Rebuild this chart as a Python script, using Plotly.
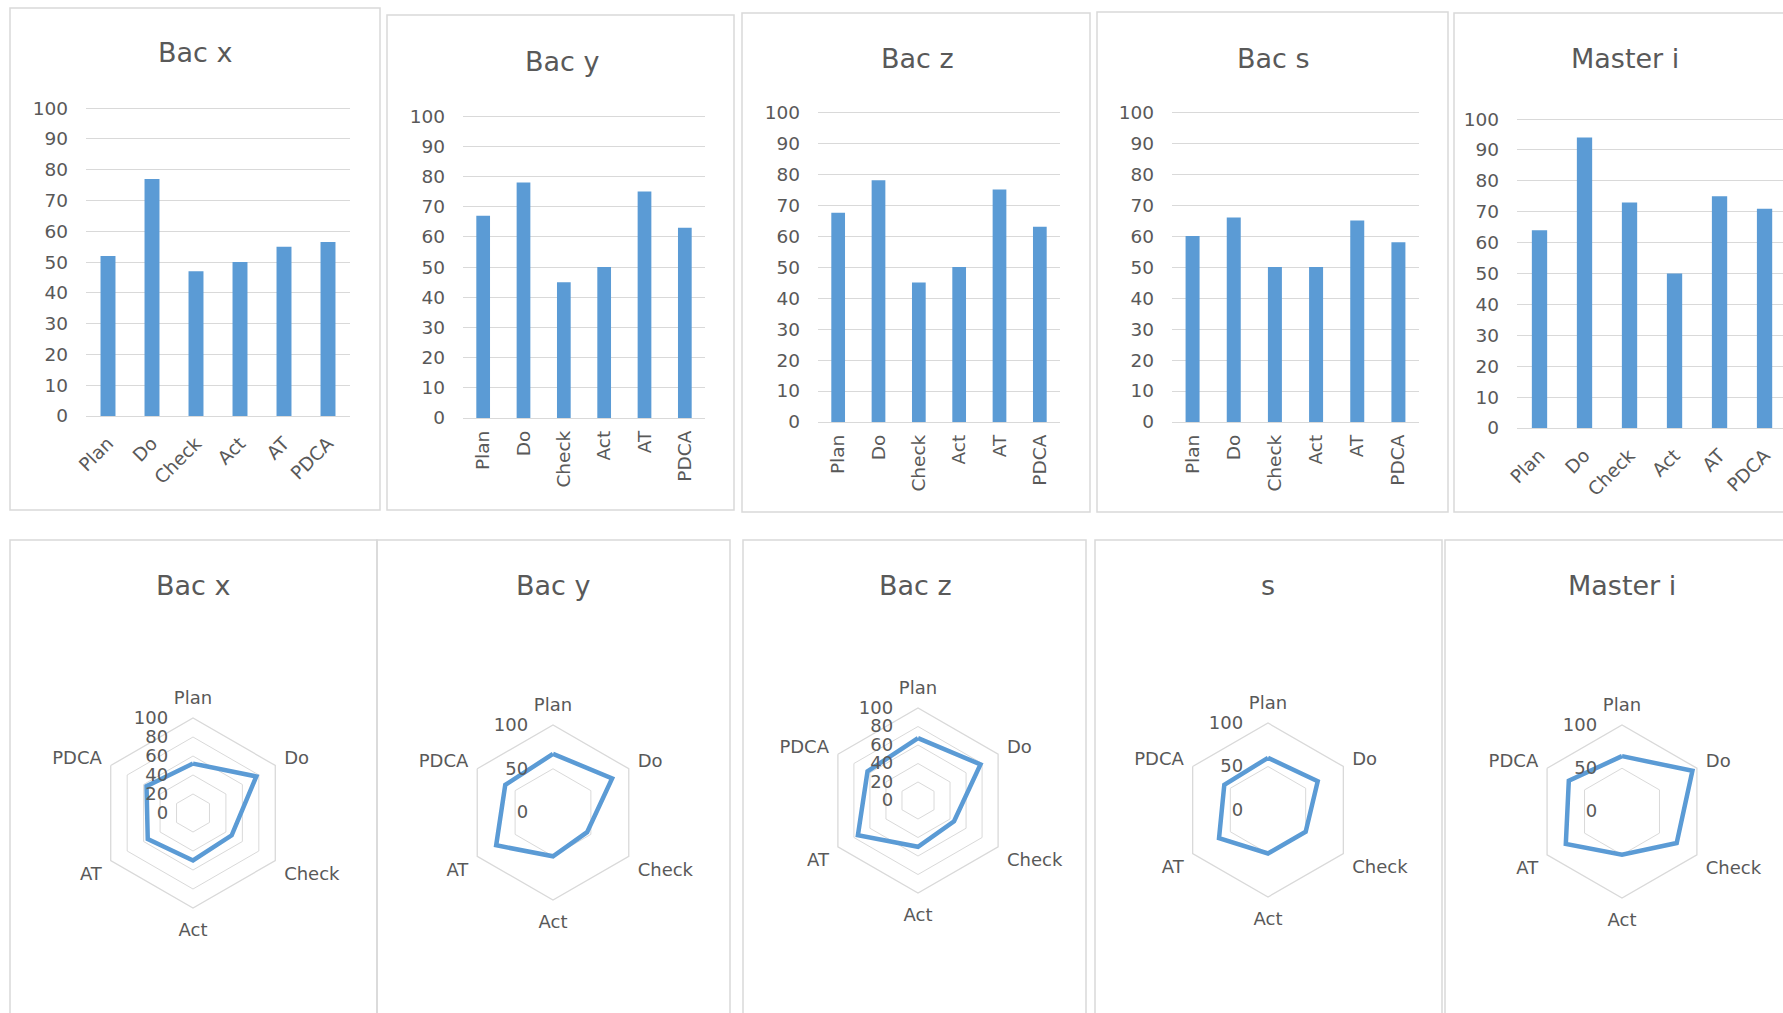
import plotly.graph_objects as go

# PDCA dimension scores per programme
categories = ["Plan", "Do", "Check", "Act", "AT", "PDCA"]
bac_x = [52, 77, 47, 50, 55, 56.5]
bac_y = [67, 78, 45, 50, 75, 63]
bac_z = [67.5, 78, 45, 50, 75, 63]
bac_s = [60, 66, 50, 50, 65, 58]
master_i = [64, 94, 73, 50, 75, 71]

bar_titles = ["Bac x", "Bac y", "Bac z", "Bac s", "Master i"]
radar_titles = ["Bac x", "Bac y", "Bac z", "s", "Master i"]
series = [bac_x, bac_y, bac_z, bac_s, master_i]
y_ticks = list(range(0, 101, 10))
radar_ticks = [
    [0, 20, 40, 60, 80, 100],
    [0, 50, 100],
    [0, 20, 40, 60, 80, 100],
    [0, 50, 100],
    [0, 50, 100],
]

W, H = 1783, 1013
BLUE = "#5B9BD5"
GRID = "#D9D9D9"
TEXT = "#595959"
FONT = "DejaVu Sans"
CLEAR = "rgba(0,0,0,0)"


def fx(x):
    return x / W


def fy(y):
    return 1 - y / H


fig = go.Figure()

# bar panels: plot box in pixels (left, right, top(100), bottom(0)), label angle, x range
bar_boxes = [
    (86, 350, 106, 416, -45, [-0.5, 5.5]),
    (463, 705, 114, 418, -90, [-0.5, 5.5]),
    (818, 1060, 110, 422, -90, [-0.5, 5.5]),
    (1172, 1419, 110, 422, -90, [-0.5, 5.5]),
    (1517, 1783, 117, 428, -45, [-0.5, 5.41]),
]
bar_title_pos = [(195, 53), (562, 62), (917, 58), (1273, 58), (1625, 58)]
bar_frames = [
    (10, 380, 8, 510),
    (387, 734, 15, 510),
    (742, 1090, 13, 512),
    (1097, 1448, 12, 512),
    (1454, 1800, 13, 512),
]

for i, (vals, box) in enumerate(zip(series, bar_boxes)):
    x0, x1, yt, yb, ang, xr = box
    n = "" if i == 0 else str(i + 1)
    fig.add_trace(go.Bar(
        x=categories, y=vals, marker=dict(color=BLUE, line=dict(width=0)),
        width=0.34, xaxis="x" + n, yaxis="y" + n, showlegend=False,
        hoverinfo="x+y",
    ))
    fig.layout["xaxis" + n] = dict(
        domain=[fx(x0), fx(x1)], anchor="y" + n, type="category",
        categoryorder="array", categoryarray=categories, range=xr,
        tickangle=ang, tickfont=dict(family=FONT, size=18.5, color=TEXT),
        showgrid=False, showline=False, ticks="", ticklabelstandoff=12 if ang == -45 else 8,
        fixedrange=True, automargin=False,
    )
    fig.layout["yaxis" + n] = dict(
        domain=[fy(yb), fy(yt + 1)], anchor="x" + n, range=[0, 100.35],
        tickvals=y_ticks, tickfont=dict(family=FONT, size=18.5, color=TEXT),
        showgrid=True, gridcolor=GRID, gridwidth=1.3, zeroline=True,
        zerolinecolor=GRID, zerolinewidth=1.3, showline=False, ticks="",
        ticklabelstandoff=17, fixedrange=True, automargin=False,
    )

# radar panels: centre and outer radius in pixels
radar_geo = [
    (193, 813, 95),
    (553, 812.5, 87.5),
    (918, 800.5, 92.5),
    (1268, 810, 87),
    (1622, 811.5, 86.5),
]
radar_title_pos = [(193, 585), (553, 585), (915, 585), (1268, 585), (1622, 585)]
radar_frames = [
    (10, 377, 540, 1040),
    (377, 730, 540, 1040),
    (743, 1086, 540, 1040),
    (1095, 1442, 540, 1040),
    (1445, 1800, 540, 1040),
]

for i, (vals, geo, tv) in enumerate(zip(series, radar_geo, radar_ticks)):
    cx, cy, R = geo
    p = "polar" if i == 0 else "polar" + str(i + 1)
    fig.add_trace(go.Scatterpolar(
        r=vals + [vals[0]], theta=categories + [categories[0]],
        mode="lines", line=dict(color=BLUE, width=4.5),
        subplot=p, showlegend=False,
    ))
    fig.layout[p] = dict(
        domain=dict(x=[fx(cx - R), fx(cx + R)], y=[fy(cy + R), fy(cy - R)]),
        gridshape="linear", bgcolor="white",
        radialaxis=dict(
            range=[0, 100], tickvals=tv, angle=90, side="counterclockwise",
            showline=False, ticks="outside", ticklen=18, tickcolor=CLEAR,
            gridcolor=GRID, gridwidth=1.3,
            tickfont=dict(family=FONT, size=18, color=TEXT), tickangle=90,
        ),
        angularaxis=dict(
            rotation=90, direction="clockwise", showgrid=False,
            showline=True, linecolor=GRID, linewidth=1.3,
            ticks="outside", ticklen=6, tickcolor=CLEAR,
            tickfont=dict(family=FONT, size=18, color=TEXT),
            categoryorder="array", categoryarray=categories,
        ),
    )

annotations = []
for t, (x, y) in zip(bar_titles, bar_title_pos):
    annotations.append(dict(text=t, x=fx(x), y=fy(y), xref="paper", yref="paper",
                            xanchor="center", yanchor="middle", showarrow=False,
                            font=dict(family=FONT, size=27, color=TEXT)))
for t, (x, y) in zip(radar_titles, radar_title_pos):
    annotations.append(dict(text=t, x=fx(x), y=fy(y), xref="paper", yref="paper",
                            xanchor="center", yanchor="middle", showarrow=False,
                            font=dict(family=FONT, size=27, color=TEXT)))

shapes = []
for (x0, x1, y0, y1) in bar_frames + radar_frames:
    shapes.append(dict(type="rect", xref="paper", yref="paper",
                       x0=fx(x0), x1=fx(x1), y0=fy(y1), y1=fy(y0),
                       line=dict(color=GRID, width=1.5), layer="below"))

fig.update_layout(
    width=W, height=H,
    margin=dict(l=0, r=0, t=0, b=0, pad=0, autoexpand=False),
    paper_bgcolor="white", plot_bgcolor="white",
    annotations=annotations, shapes=shapes, bargap=0.66,
    font=dict(family=FONT, color=TEXT),
)

# page without body margin so the figure starts at the window corner
fig.write_html("out.html", post_script="document.body.style.margin='0';")
